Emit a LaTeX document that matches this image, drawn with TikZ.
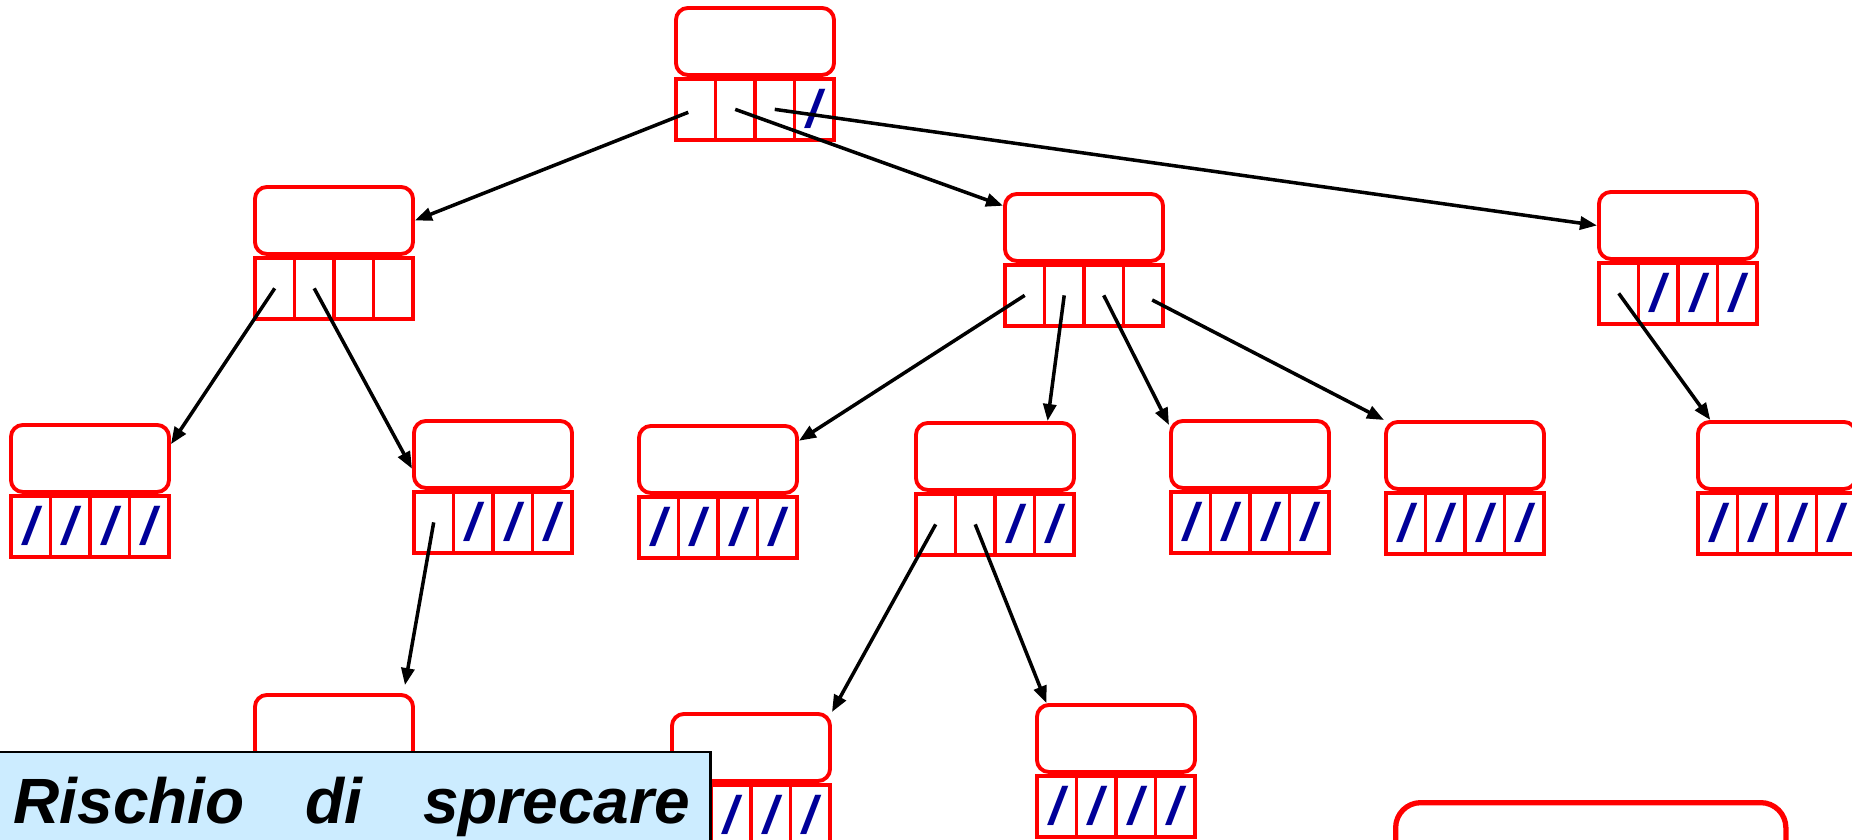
\documentclass[tikz,border=0pt]{standalone}
\usepackage{fontspec}
\usetikzlibrary{arrows.meta}
\newfontfamily\arialfont{Liberation Sans}
\definecolor{nodered}{RGB}{255,0,0}
\definecolor{nilblue}{RGB}{0,0,153}
\definecolor{notefill}{RGB}{204,236,255}

\tikzset{
  keybox/.style={draw=nodered, line width=1.1pt, rounded corners=0.12cm,
    minimum width=1.58cm, minimum height=0.67cm, inner sep=0pt, anchor=north west},
  cellbox/.style={draw=nodered, line width=1.1pt, minimum width=0.395cm,
    minimum height=0.61cm, inner sep=0pt, anchor=north west, text=nilblue,
    font=\arialfont\bfseries\itshape\fontsize{15pt}{15pt}\selectfont},
  ptr/.style={-{Triangle[length=0.17cm,width=0.13cm]}, line width=1pt},
  notebox/.style={draw=black, line width=0.6pt, fill=notefill, anchor=north west,
    minimum width=7.14cm, minimum height=1.6cm, inner sep=0pt},
  notetext/.style={anchor=base west, inner sep=0pt, text width=6.76cm,
    font=\arialfont\bfseries\itshape\fontsize{18.2pt}{22pt}\selectfont},
}

% key box with its four pointer cells; 1 = null pointer
\newcommand{\btnode}[4]{%
  \node[keybox] (#1) at (#2,#3) {};
  \foreach \f [count=\i] in {#4}
    \node[cellbox] (#1-\i) at ([xshift={(\i-1)*0.395cm}]#1.south west) {\ifnum\f=1 /\fi};
}

\begin{document}
\begin{tikzpicture}[x=0.01cm, y=-0.01cm]
    \clip (0,0) rectangle (1852,839);
    % tree nodes
    \btnode{root}{674}{6}{0,0,0,1}
    \btnode{A}{253}{185}{0,0,0,0}
    \btnode{B}{1003}{192}{0,0,0,0}
    \btnode{C}{1597}{190}{0,1,1,1}
    \btnode{D}{9}{423}{1,1,1,1}
    \btnode{E}{412}{419}{0,1,1,1}
    \btnode{F}{637}{424}{1,1,1,1}
    \btnode{G}{914}{421}{0,0,1,1}
    \btnode{H}{1169}{419}{1,1,1,1}
    \btnode{I}{1384}{420}{1,1,1,1}
    \btnode{J}{1696}{420}{1,1,1,1}
    \btnode{K}{253}{693}{0,0,0,0}
    \btnode{L}{670}{712}{0,1,1,1}
    \btnode{M}{1035}{703}{1,1,1,1}
    \node[draw=nodered, line width=1.5pt, rounded corners=0.25cm, minimum width=3.9cm,
        minimum height=1.5cm, anchor=north west] (big) at (1393,800) {};
    % pointers
    \draw[ptr, shorten <=0.08cm] (root-1.center) -- (A.east);
    \draw[ptr] (root-2.center) -- (B.165);
    \draw[ptr] (root-3.center) -- (C.west);
    \draw[ptr] (A-1.center) -- (D.10);
    \draw[ptr] (A-2.center) -- (E.190);
    \draw[ptr, shorten >=0.08cm] (E-1.center) -- (K.27);
    \draw[ptr] (B-1.center) -- (F.13);
    \draw[ptr] (B-2.center) -- (G.34);
    \draw[ptr] (B-3.center) -- (H.160);
    \draw[ptr, shorten <=0.1cm] (B-4.center) -- (I.north west);
    \draw[ptr] (C-1.center) -- (J.152);
    \draw[ptr] (G-1.center) -- (L.north east);
    \draw[ptr] (G-2.center) -- (M.153);
    % note
    \node[notebox] (note) at (-5,751) {};
    \node[notetext] (risk) at (13,823) {\noindent Rischio\hfill di\hfill sprecare};
\end{tikzpicture}
\end{document}
